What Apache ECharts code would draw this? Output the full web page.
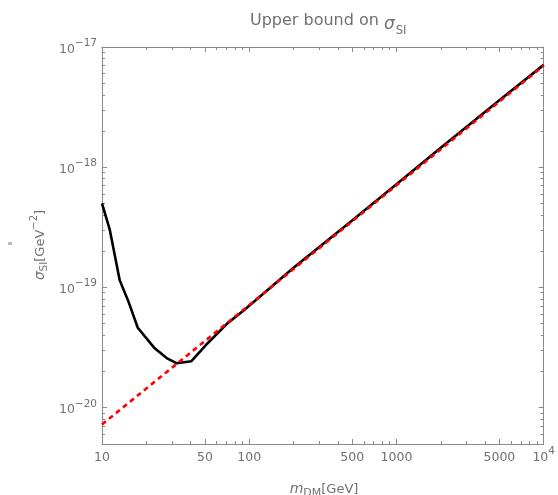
<!DOCTYPE html>
<html>
<head>
<meta charset="utf-8">
<script src="https://cdn.jsdelivr.net/npm/echarts@6/dist/echarts.min.js"></script>
<style>html,body{margin:0;padding:0;background:#fff;}#c{width:558px;height:495px;}</style>
</head>
<body>
<div id="c"></div>
<script>
// ---- data ----
const blackMass  = [10, 11.3, 13.2, 15, 17.5, 22.8, 27.5, 32, 40.5, 52, 71, 92.5, 200, 500, 1000, 2000, 5000, 10000];
const blackSigma = [5.0e-19, 3.0e-19, 1.14e-19, 7.8e-20, 4.6e-20, 3.1e-20, 2.57e-20, 2.33e-20, 2.42e-20, 3.4e-20, 5.0e-20, 6.45e-20, 1.45e-19, 3.6e-19, 7.2e-19, 1.45e-18, 3.6e-18, 7.1e-18];
const redMass  = [10, 100, 1000, 10000];
const redSigma = [7.2e-21, 7.1e-20, 7.05e-19, 7.0e-18];

// tick positions (axis values)
const xLabelTicks = [10, 50, 100, 500, 1000, 5000, 10000];
const xMinorTicks = [20, 30, 40, 60, 70, 80, 90, 200, 300, 400, 600, 700, 800, 900, 2000, 3000, 4000, 6000, 7000, 8000, 9000];
const yLabelTicks = [1e-20, 1e-19, 1e-18, 1e-17];
const yMinorTicks = [6e-21, 7e-21, 8e-21, 9e-21,
  2e-20, 3e-20, 4e-20, 5e-20, 6e-20, 7e-20, 8e-20, 9e-20,
  2e-19, 3e-19, 4e-19, 5e-19, 6e-19, 7e-19, 8e-19, 9e-19,
  2e-18, 3e-18, 4e-18, 5e-18, 6e-18, 7e-18, 8e-18, 9e-18];

const X_MIN = 10, X_MAX = 10000, Y_MIN = 4.95e-21, Y_MAX = 1e-17;

const GRAY = '#707070';
const AXIS = '#8a8a8a';
const FONT = 'DejaVu Sans';

const supRich = {
  b: {fontSize: 12.5, fontFamily: FONT, color: GRAY, lineHeight: 18, verticalAlign: 'bottom'},
  s: {fontSize: 10.5, fontFamily: FONT, color: GRAY, lineHeight: 11, verticalAlign: 'top'}
};

function mainX() {
  return {
    type: 'log', min: X_MIN, max: X_MAX, position: 'bottom',
    axisLine: {show: true, onZero: false, lineStyle: {color: AXIS, width: 1}},
    splitLine: {show: false}, minorTick: {show: false},
    axisTick: {show: false},
    axisLabel: {
      show: true, customValues: xLabelTicks, margin: 2,
      formatter: function (v) {
        if (Math.abs(v - 10000) < 1) return '{b|10}{s|4}';
        return '{b|' + Math.round(v) + '}';
      },
      rich: supRich
    }
  };
}
function mainY() {
  return {
    type: 'log', min: Y_MIN, max: Y_MAX, position: 'left',
    axisLine: {show: true, onZero: false, lineStyle: {color: AXIS, width: 1}},
    splitLine: {show: false}, minorTick: {show: false},
    axisTick: {show: false},
    axisLabel: {
      show: true, customValues: yLabelTicks, margin: 5,
      formatter: function (v) {
        const e = Math.round(Math.log10(v));
        return '{b|10}{s|\u2212' + Math.abs(e) + '}';
      },
      rich: supRich
    }
  };
}
function tickAxis(position, lo, hi, values, len, line) {
  return {
    type: 'value', min: Math.log10(lo), max: Math.log10(hi), position: position,
    axisLine: {show: line, onZero: false, lineStyle: {color: AXIS, width: 1}},
    splitLine: {show: false}, minorTick: {show: false},
    axisLabel: {show: false},
    axisTick: {show: true, inside: true, length: len, customValues: values.map(Math.log10), lineStyle: {color: AXIS, width: 1}}
  };
}

const chart = echarts.init(document.getElementById('c'), null, {renderer: 'canvas'});
chart.setOption({
  animation: false,
  backgroundColor: '#fff',
  title: {
    text: 'Upper bound on{i|σ}{sub|SI}',
    left: 245, top: 4,
    textStyle: {
      fontFamily: FONT, fontSize: 16, fontWeight: 'normal', color: GRAY, lineHeight: 24, verticalAlign: 'bottom',
      rich: {
        i: {fontFamily: FONT, fontSize: 17, fontStyle: 'italic', color: GRAY, lineHeight: 24, verticalAlign: 'bottom', padding: [0, 0, 0, 5]},
        sub: {fontFamily: FONT, fontSize: 11.5, color: GRAY, lineHeight: 18, verticalAlign: 'bottom', padding: [0, 0, -4, 1]}
      }
    }
  },
  grid: {left: 102, top: 47, right: 13, bottom: 51, containLabel: false},
  xAxis: [
    mainX(),
    tickAxis('bottom', X_MIN, X_MAX, xLabelTicks, 5, false),
    tickAxis('bottom', X_MIN, X_MAX, xMinorTicks, 3, false),
    tickAxis('top', X_MIN, X_MAX, xLabelTicks, 5, true),
    tickAxis('top', X_MIN, X_MAX, xMinorTicks, 3, false)
  ],
  yAxis: [
    mainY(),
    tickAxis('left', Y_MIN, Y_MAX, yLabelTicks, 5, false),
    tickAxis('left', Y_MIN, Y_MAX, yMinorTicks, 3, false),
    tickAxis('right', Y_MIN, Y_MAX, yLabelTicks, 5, true),
    tickAxis('right', Y_MIN, Y_MAX, yMinorTicks, 3, false)
  ],
  graphic: [
    {
      type: 'text', x: 324, y: 487,
      style: {
        text: '{i|m}{sub|DM}{n|[GeV]}', align: 'center', verticalAlign: 'middle',
        rich: {
          i: {fontFamily: FONT, fontSize: 14, fontStyle: 'italic', fill: GRAY, lineHeight: 18, verticalAlign: 'bottom'},
          sub: {fontFamily: FONT, fontSize: 11, fill: GRAY, lineHeight: 14, verticalAlign: 'bottom', padding: [0, 0, -3, 0]},
          n: {fontFamily: FONT, fontSize: 13, fill: GRAY, lineHeight: 18, verticalAlign: 'bottom'}
        }
      }
    },
    {
      type: 'text', x: 38, y: 245, rotation: Math.PI / 2,
      style: {
        text: '{i|σ}{sub|SI}{n|[GeV}{sup|\u22122}{n|]}', align: 'center', verticalAlign: 'middle',
        rich: {
          i: {fontFamily: FONT, fontSize: 13.5, fontStyle: 'italic', fill: GRAY, lineHeight: 18, verticalAlign: 'bottom'},
          sub: {fontFamily: FONT, fontSize: 10.5, fill: GRAY, lineHeight: 14, verticalAlign: 'bottom', padding: [0, 0, -3, 0]},
          n: {fontFamily: FONT, fontSize: 13, fill: GRAY, lineHeight: 18, verticalAlign: 'bottom'},
          sup: {fontFamily: FONT, fontSize: 10, fill: GRAY, lineHeight: 10, verticalAlign: 'top'}
        }
      }
    },
    {
      type: 'text', x: 10, y: 247,
      style: {text: '"', fontFamily: FONT, fontSize: 11, fill: GRAY, align: 'center', verticalAlign: 'middle'}
    }
  ],
  series: [
    {
      type: 'line', xAxisIndex: 0, yAxisIndex: 0,
      data: blackMass.map((m, i) => [m, blackSigma[i]]),
      showSymbol: false, symbol: 'none', smooth: false,
      lineStyle: {color: '#000', width: 2.6}, z: 2
    },
    {
      type: 'line', xAxisIndex: 0, yAxisIndex: 0,
      data: redMass.map((m, i) => [m, redSigma[i]]),
      showSymbol: false, symbol: 'none', smooth: false,
      lineStyle: {color: '#ff0000', width: 2.6, type: [5, 4]}, z: 3
    }
  ]
});
</script>
</body>
</html>
